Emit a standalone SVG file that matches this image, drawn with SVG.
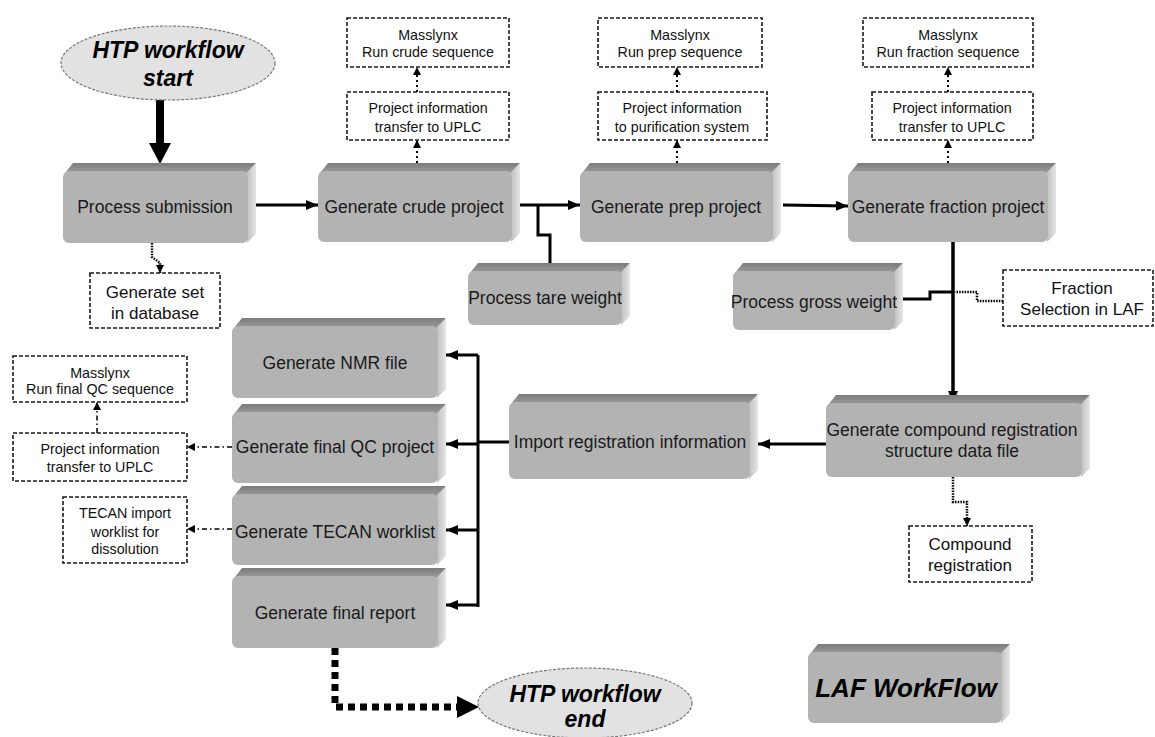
<svg xmlns="http://www.w3.org/2000/svg" width="1155" height="737" viewBox="0 0 1155 737">
<defs>
<linearGradient id="gTop" x1="0" y1="0" x2="0" y2="1"><stop offset="0" stop-color="#7c7c7c"/><stop offset="1" stop-color="#9c9c9c"/></linearGradient>
<linearGradient id="gSide" x1="0" y1="0" x2="1" y2="0"><stop offset="0" stop-color="#c0c0c0"/><stop offset="1" stop-color="#e6e6e6"/></linearGradient>
<marker id="ah" markerUnits="userSpaceOnUse" viewBox="0 0 12 10" refX="12" refY="5" markerWidth="12" markerHeight="10" orient="auto"><path d="M0,0 L12,5 L0,10 Z" fill="#000"/></marker>
<marker id="ahs" markerUnits="userSpaceOnUse" viewBox="0 0 8 8" refX="8" refY="4" markerWidth="8" markerHeight="8" orient="auto"><path d="M0,0 L8,4 L0,8 Z" fill="#000"/></marker>
</defs>
<style>
.top{fill:url(#gTop)}
.side{fill:url(#gSide)}
.front{fill:#b3b3b3}
.lbl{font-family:"Liberation Sans",Arial,sans-serif;font-size:17.5px;fill:#1a1a1a;text-anchor:middle}
.dbox{fill:#fff;stroke:#1a1a1a;stroke-width:1.6;stroke-dasharray:4 2}
.dt{font-family:"Liberation Sans",Arial,sans-serif;font-size:14.3px;fill:#111;text-anchor:middle}
.dt17{font-size:17px}
.ell{fill:#e2e2e2;stroke:#777;stroke-width:1.2;stroke-dasharray:3 1.5}
.et{font-family:"Liberation Sans",Arial,sans-serif;font-size:23px;font-weight:bold;font-style:italic;fill:#000;text-anchor:middle}
.laf{font-family:"Liberation Sans",Arial,sans-serif;font-size:26px;font-weight:bold;font-style:italic;fill:#000;text-anchor:middle}
.solid{fill:none;stroke:#000;stroke-width:3}
.dotted{fill:none;stroke:#000;stroke-width:2.5;stroke-dasharray:1.5 1.2}
.dots{fill:none;stroke:#000;stroke-width:2;stroke-dasharray:2 3}
.dashdot{fill:none;stroke:#000;stroke-width:1.5;stroke-dasharray:5 3 1.5 3}
</style>
<rect width="1155" height="737" fill="#fff"/>

<g id="connectors">
  <path d="M160,100 L160,145" fill="none" stroke="#000" stroke-width="8"/>
  <polygon points="149,143 171,143 160,164" fill="#000"/>
  <path class="solid" d="M256,205 L318,205" marker-end="url(#ah)"/>
  <path class="solid" d="M518,205 L580,205" marker-end="url(#ah)"/>
  <path class="solid" d="M538,205 L538,235 L550,235 L550,264"/>
  <path class="solid" d="M783,205 L848,206" marker-end="url(#ah)"/>
  <path d="M953,242 L953,403" fill="none" stroke="#000" stroke-width="3.5" marker-end="url(#ah)"/>
  <path class="solid" d="M903,299 L930,299 L930,292 L953,292"/>
  <path class="dotted" d="M1003,301 L977,301 L977,292 L955,292"/>
  <path class="solid" d="M826,444 L758,444" marker-end="url(#ah)"/>
  <path class="dotted" d="M953,477 L953,502 L967,502 L967,526" marker-end="url(#ahs)"/>
  <path class="solid" d="M509,442 L478,442"/>
  <path class="solid" d="M478,355 L478,607"/>
  <path class="solid" d="M478,355 L446,355" marker-end="url(#ah)"/>
  <path class="solid" d="M478,444 L446,444" marker-end="url(#ah)"/>
  <path class="solid" d="M478,530 L446,530" marker-end="url(#ah)"/>
  <path class="solid" d="M478,605 L446,605" marker-end="url(#ah)"/>
  <path class="dashdot" d="M232,447 L187,447" marker-end="url(#ahs)"/>
  <path class="dashdot" d="M232,529 L187,529" marker-end="url(#ahs)"/>
  <path class="dashdot" d="M97,433 L97,402" marker-end="url(#ahs)"/>
  <path class="dotted" d="M152,243 L152,257 L160,263 L160,273" marker-end="url(#ahs)"/>
  <path class="dots" d="M417,163 L417,140" marker-end="url(#ahs)"/>
  <path class="dots" d="M417,92 L417,67" marker-end="url(#ahs)"/>
  <path class="dots" d="M677,163 L677,140" marker-end="url(#ahs)"/>
  <path class="dots" d="M677,92 L677,67" marker-end="url(#ahs)"/>
  <path class="dots" d="M948,163 L948,140" marker-end="url(#ahs)"/>
  <path class="dots" d="M948,92 L948,67" marker-end="url(#ahs)"/>
  <path d="M335,648 L335,707 L458,707" fill="none" stroke="#000" stroke-width="7" stroke-dasharray="7 5"/>
  <polygon points="457,696 457,718 479,707" fill="#000"/>
</g>

<g id="start">
  <ellipse class="ell" cx="168" cy="63" rx="107" ry="37"/>
  <text class="et" x="168" y="58">HTP workflow</text>
  <text class="et" x="168" y="86">start</text>
</g>
<g id="end">
  <ellipse class="ell" cx="585" cy="703" rx="107" ry="35"/>
  <text class="et" x="585" y="702">HTP workflow</text>
  <text class="et" x="585" y="727">end</text>
</g>

<g id="process-submission">
  <polygon class="top" points="65,173 73,163 256,163 248,173"/>
  <polygon class="side" points="247,172 256,163 256,234 247,243"/>
  <rect class="front" x="63" y="171" width="185" height="72" rx="6"/>
  <text class="lbl" x="155" y="213">Process submission</text>
</g>
<g id="generate-crude">
  <polygon class="top" points="320,173 328,163 520,163 512,173"/>
  <polygon class="side" points="511,172 520,163 520,233 511,242"/>
  <rect class="front" x="318" y="171" width="194" height="71" rx="6"/>
  <text class="lbl" x="414" y="213">Generate crude project</text>
</g>
<g id="generate-prep">
  <polygon class="top" points="582,173 590,163 781,163 773,173"/>
  <polygon class="side" points="772,172 781,163 781,233 772,242"/>
  <rect class="front" x="580" y="171" width="193" height="71" rx="6"/>
  <text class="lbl" x="676" y="213">Generate prep project</text>
</g>
<g id="generate-fraction">
  <polygon class="top" points="850,173 858,163 1056,163 1048,173"/>
  <polygon class="side" points="1047,172 1056,163 1056,233 1047,242"/>
  <rect class="front" x="848" y="171" width="200" height="71" rx="6"/>
  <text class="lbl" x="948" y="213">Generate fraction project</text>
</g>
<g id="tare-weight">
  <polygon class="top" points="470,273 478,263 630,263 622,273"/>
  <polygon class="side" points="621,272 630,263 630,316 621,325"/>
  <rect class="front" x="468" y="271" width="154" height="54" rx="6"/>
  <text class="lbl" x="545" y="304">Process tare weight</text>
</g>
<g id="gross-weight">
  <polygon class="top" points="735,273 743,263 903,263 895,273"/>
  <polygon class="side" points="894,272 903,263 903,321 894,330"/>
  <rect class="front" x="733" y="271" width="162" height="59" rx="6"/>
  <text class="lbl" x="814" y="308">Process gross weight</text>
</g>
<g id="compound-sdf">
  <polygon class="top" points="828,405 836,395 1090,395 1082,405"/>
  <polygon class="side" points="1081,404 1090,395 1090,468 1081,477"/>
  <rect class="front" x="826" y="403" width="256" height="74" rx="6"/>
  <text class="lbl" x="952" y="436">Generate compound registration</text>
  <text class="lbl" x="952" y="457">structure data file</text>
</g>
<g id="import-registration">
  <polygon class="top" points="511,404 519,394 758,394 750,404"/>
  <polygon class="side" points="749,403 758,394 758,470 749,479"/>
  <rect class="front" x="509" y="402" width="241" height="77" rx="6"/>
  <text class="lbl" x="630" y="448">Import registration information</text>
</g>
<g id="nmr-file">
  <polygon class="top" points="234,328 242,318 446,318 438,328"/>
  <polygon class="side" points="437,327 446,318 446,389 437,398"/>
  <rect class="front" x="232" y="326" width="206" height="72" rx="6"/>
  <text class="lbl" x="335" y="369">Generate NMR file</text>
</g>
<g id="final-qc">
  <polygon class="top" points="234,414 242,404 446,404 438,414"/>
  <polygon class="side" points="437,413 446,404 446,474 437,483"/>
  <rect class="front" x="232" y="412" width="206" height="71" rx="6"/>
  <text class="lbl" x="335" y="453">Generate final QC project</text>
</g>
<g id="tecan-worklist">
  <polygon class="top" points="234,496 242,486 446,486 438,496"/>
  <polygon class="side" points="437,495 446,486 446,556 437,565"/>
  <rect class="front" x="232" y="494" width="206" height="71" rx="6"/>
  <text class="lbl" x="335" y="538">Generate TECAN worklist</text>
</g>
<g id="final-report">
  <polygon class="top" points="234,578 242,568 446,568 438,578"/>
  <polygon class="side" points="437,577 446,568 446,639 437,648"/>
  <rect class="front" x="232" y="576" width="206" height="72" rx="6"/>
  <text class="lbl" x="335" y="619">Generate final report</text>
</g>
<g id="laf-workflow">
  <polygon class="top" points="810,654 818,644 1010,644 1002,654"/>
  <polygon class="side" points="1001,653 1010,644 1010,714 1001,723"/>
  <rect class="front" x="808" y="652" width="194" height="71" rx="6"/>
  <text class="laf" x="906" y="697">LAF WorkFlow</text>
</g>

<g id="masslynx-crude">
  <rect class="dbox" x="347" y="18" width="162" height="49"/>
  <text class="dt" x="428" y="40">Masslynx</text>
  <text class="dt" x="428" y="57">Run crude sequence</text>
</g>
<g id="uplc-crude">
  <rect class="dbox" x="347" y="92" width="162" height="48"/>
  <text class="dt" x="428" y="113">Project information</text>
  <text class="dt" x="428" y="132">transfer to UPLC</text>
</g>
<g id="masslynx-prep">
  <rect class="dbox" x="598" y="18" width="164" height="49"/>
  <text class="dt" x="680" y="40">Masslynx</text>
  <text class="dt" x="680" y="57">Run prep sequence</text>
</g>
<g id="purification-prep">
  <rect class="dbox" x="598" y="92" width="169" height="48"/>
  <text class="dt" x="682" y="113">Project information</text>
  <text class="dt" x="682" y="132">to purification system</text>
</g>
<g id="masslynx-fraction">
  <rect class="dbox" x="863" y="18" width="170" height="49"/>
  <text class="dt" x="948" y="40">Masslynx</text>
  <text class="dt" x="948" y="57">Run fraction sequence</text>
</g>
<g id="uplc-fraction">
  <rect class="dbox" x="872" y="92" width="161" height="48"/>
  <text class="dt" x="952" y="113">Project information</text>
  <text class="dt" x="952" y="132">transfer to UPLC</text>
</g>
<g id="set-database">
  <rect class="dbox" x="90" y="273" width="130" height="55"/>
  <text class="dt dt17" x="155" y="298">Generate set</text>
  <text class="dt dt17" x="155" y="319">in database</text>
</g>
<g id="fraction-selection">
  <rect class="dbox" x="1003" y="270" width="150" height="56"/>
  <text class="dt dt17" x="1082" y="294">Fraction</text>
  <text class="dt dt17" x="1082" y="315">Selection in LAF</text>
</g>
<g id="compound-registration">
  <rect class="dbox" x="909" y="526" width="123" height="56"/>
  <text class="dt dt17" x="970" y="550">Compound</text>
  <text class="dt dt17" x="970" y="571">registration</text>
</g>
<g id="masslynx-qc">
  <rect class="dbox" x="13" y="356" width="174" height="46"/>
  <text class="dt" x="100" y="378">Masslynx</text>
  <text class="dt" x="100" y="394">Run final QC sequence</text>
</g>
<g id="uplc-qc">
  <rect class="dbox" x="13" y="433" width="174" height="48"/>
  <text class="dt" x="100" y="454">Project information</text>
  <text class="dt" x="100" y="472">transfer to UPLC</text>
</g>
<g id="tecan-import">
  <rect class="dbox" x="63" y="497" width="124" height="66"/>
  <text class="dt" x="125" y="518">TECAN import</text>
  <text class="dt" x="125" y="537">worklist for</text>
  <text class="dt" x="125" y="554">dissolution</text>
</g>
</svg>
